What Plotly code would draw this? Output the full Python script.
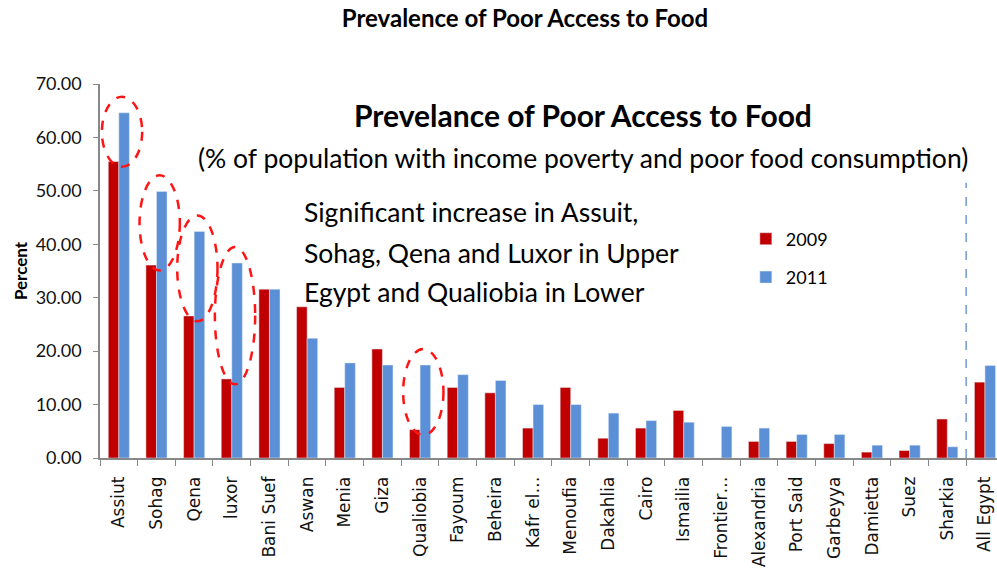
import plotly.graph_objects as go

categories = ["Assiut", "Sohag", "Qena", "luxor", "Bani Suef", "Aswan", "Menia", "Giza",
              "Qualiobia", "Fayoum", "Beheira", "Kafr el…", "Menoufia", "Dakahlia", "Cairo",
              "Ismailia", "Frontier…", "Alexandria", "Port Said", "Garbeyya", "Damietta",
              "Suez", "Sharkia", "All Egypt"]
values_2009 = [55.5, 36.1, 26.6, 14.8, 31.6, 28.3, 13.2, 20.4, 5.3, 13.2, 12.2, 5.6, 13.2,
               3.7, 5.6, 8.9, 0.0, 3.1, 3.1, 2.7, 1.1, 1.4, 7.3, 14.2]
values_2011 = [64.6, 49.9, 42.4, 36.5, 31.6, 22.4, 17.8, 17.4, 17.4, 15.6, 14.5, 10.0, 10.0,
               8.4, 7.0, 6.7, 5.9, 5.6, 4.4, 4.4, 2.4, 2.4, 2.1, 17.3]
highlighted = ["Assiut", "Sohag", "Qena", "luxor", "Qualiobia"]
y_ticks = [0, 10, 20, 30, 40, 50, 60, 70]
note_lines = ["Significant increase in Assuit,",
              "Sohag, Qena and Luxor in Upper",
              "Egypt and Qualiobia in Lower"]

RED = "#C00000"
BLUE = "#5B8FD6"
FONT = "Lato"

fig = go.Figure()
fig.add_trace(go.Bar(x=categories, y=values_2009, name="2009", marker_color=RED,
                     legendgroup="a"))
fig.add_trace(go.Bar(x=categories, y=values_2011, name="2011", marker_color=BLUE,
                     legendgroup="b"))

shapes = []
for name in highlighted:
    i = categories.index(name)
    lo = min(values_2009[i], values_2011[i])
    hi = max(values_2009[i], values_2011[i])
    shapes.append(dict(type="circle", xref="x", yref="y",
                       x0=i - 0.45, x1=i + 0.62, y0=lo - 1.0, y1=hi + 3.0,
                       line=dict(color="#FF1414", width=2.5, dash="dash")))
sep = len(categories) - 1.5
shapes.append(dict(type="line", xref="x", yref="y", x0=sep, x1=sep, y0=0, y1=51.5,
                   line=dict(color="#4F7FC4", width=1.2, dash="dash")))

annotations = [
    dict(text="<b>Prevelance of Poor Access to Food</b>", xref="paper", yref="paper",
         x=0.538, y=0.917, xanchor="center", yanchor="middle", showarrow=False,
         font=dict(family=FONT, size=30, color="#000")),
    dict(text="(% of population with income poverty and poor food consumption)",
         xref="paper", yref="paper", x=0.538, y=0.802, xanchor="center", yanchor="middle",
         showarrow=False, font=dict(family=FONT, size=26.5, color="#000")),
]
for k, line in enumerate(note_lines):
    annotations.append(dict(text=line, xref="paper", yref="paper", x=0.225,
                            y=[0.657, 0.549, 0.445][k], xanchor="left", yanchor="middle",
                            showarrow=False, font=dict(family=FONT, size=26.5, color="#000")))

fig.update_layout(
    width=997, height=575,
    margin=dict(l=100, r=0, t=84, b=117),
    paper_bgcolor="white", plot_bgcolor="white",
    font=dict(family=FONT, color="#000"),
    title=dict(text="<b>Prevalence of Poor Access to Food</b>", x=0.5266, xanchor="center",
               y=0.968, yanchor="middle", font=dict(family=FONT, size=24, color="#000")),
    barmode="group", bargap=0.44, bargroupgap=0.0,
    showlegend=True,
    legend=dict(x=0.72, y=0.635, xanchor="left", yanchor="top", traceorder="grouped",
                tracegroupgap=12, bgcolor="rgba(0,0,0,0)",
                font=dict(family=FONT, size=18, color="#000")),
    shapes=shapes, annotations=annotations,
)
fig.update_xaxes(range=[-0.5, 23.32], tickson="boundaries", ticks="outside", ticklen=6,
                 tickcolor="#888", showline=True, linecolor="#888", linewidth=1.5,
                 tickangle=-90, ticklabelstandoff=10,
                 tickfont=dict(family="DejaVu Sans", size=17, color="#111"),
                 showgrid=False)
fig.update_yaxes(range=[0, 70], tickvals=y_ticks, ticktext=[f"{v:.2f}" for v in y_ticks],
                 ticks="outside", ticklen=5, tickcolor="#888", showline=True,
                 linecolor="#888", linewidth=1.5, showgrid=False, zeroline=False,
                 ticklabelstandoff=8,
                 tickfont=dict(family=FONT, size=18, color="#111"),
                 title=dict(text="<b>Percent</b>", standoff=4,
                            font=dict(family=FONT, size=17, color="#000")))

fig.write_html("out.html")
